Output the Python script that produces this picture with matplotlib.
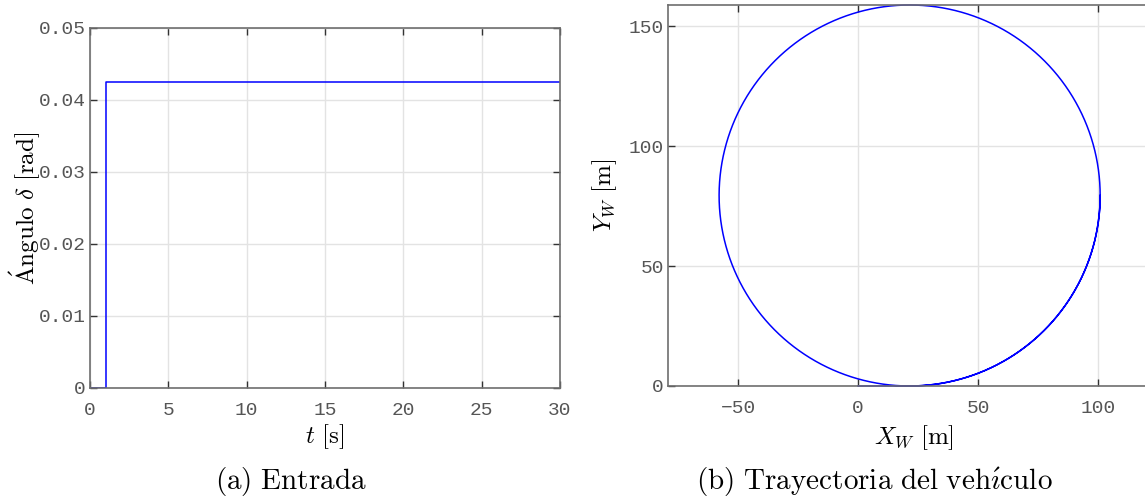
import numpy as np
import matplotlib
matplotlib.use("Agg")
import matplotlib.pyplot as plt

# steering input: step at t = 1 s
t_in = [0.0, 1.0, 1.0, 30.0]
delta_in = [0.0, 0.0, 0.0425, 0.0425]

# vehicle parameters for the kinematic path
speed = 21.5        # m/s
wheelbase = 3.376   # m
t_end = 30.0
dt = 0.002

plt.rcParams["mathtext.fontset"] = "cm"
tick_family = "Liberation Mono"
grid_col = "#e3e3e3"
spine_col = "#6e6e6e"
tick_col = "#555555"


def style_axes(ax):
    ax.grid(True, color=grid_col, linewidth=1.0)
    ax.set_axisbelow(True)
    for s in ax.spines.values():
        s.set_color(spine_col)
        s.set_linewidth(1.2)
    ax.tick_params(direction="in", length=5, width=1.0, color="#333333",
                   top=True, right=True, labelcolor=tick_col)
    ax.tick_params(axis="x", pad=10)
    ax.tick_params(axis="y", pad=3)
    for lab in ax.get_xticklabels() + ax.get_yticklabels():
        lab.set_fontfamily(tick_family)
        lab.set_fontsize(14)


fig = plt.figure(figsize=(11.45, 5.03), dpi=100)

# (a) steering angle
ax1 = fig.add_axes([90 / 1145, 1 - 388 / 503, 470 / 1145, 360 / 503])
ax1.plot(t_in, delta_in, color="#0000ff", linewidth=1.1)
ax1.set_xlim(0, 30)
ax1.set_ylim(0, 0.05)
ax1.set_xticks(np.arange(0, 31, 5))
ax1.set_yticks([0, 0.01, 0.02, 0.03, 0.04, 0.05])
ax1.set_yticklabels(["0", "0.01", "0.02", "0.03", "0.04", "0.05"])
style_axes(ax1)
ax1.set_xlabel(r"$t\ [\mathrm{s}]$", fontsize=18, va="center")
ax1.set_ylabel(r"$\acute{\mathrm{A}}\mathrm{ngulo}\ \delta\ [\mathrm{rad}]$",
               fontsize=18, va="center")
ax1.xaxis.set_label_coords(0.5, (388 - 437) / 360)
ax1.yaxis.set_label_coords((25 - 90) / 470, 0.5)

# (b) vehicle path from the same input
t = np.arange(0, t_end + dt, dt)
delta = np.interp(t, [0, 1.0 - 1e-9, 1.0, t_end], [0, 0, 0.0425, 0.0425])
yaw_rate = speed / wheelbase * np.tan(delta)
yaw = np.concatenate([[0], np.cumsum(0.5 * (yaw_rate[1:] + yaw_rate[:-1]) * dt)])
vx = speed * np.cos(yaw)
vy = speed * np.sin(yaw)
xw = np.concatenate([[0], np.cumsum(0.5 * (vx[1:] + vx[:-1]) * dt)])
yw = np.concatenate([[0], np.cumsum(0.5 * (vy[1:] + vy[:-1]) * dt)])

ax2 = fig.add_axes([668 / 1145, 1 - 386 / 503, 492 / 1145, 381 / 503])
ax2.plot(xw, yw, color="#0000ff", linewidth=1.1, clip_on=False)
ax2.set_xlim(-79.2, 125.8)
ax2.set_ylim(0, yw.max())
ax2.set_xticks([-50, 0, 50, 100])
ax2.set_yticks([0, 50, 100, 150])
style_axes(ax2)
ax2.set_xlabel(r"$X_W\ [\mathrm{m}]$", fontsize=18, va="center")
ax2.set_ylabel(r"$Y_W\ [\mathrm{m}]$", fontsize=18, va="center")
ax2.xaxis.set_label_coords(0.5, (386 - 438) / 381)
ax2.yaxis.set_label_coords((605 - 668) / 492, 0.5)

fig.text(291 / 1145, 1 - 482 / 503, r"$\mathrm{(a)\ Entrada}$", fontsize=21,
         ha="center", va="center")
fig.text(874 / 1145, 1 - 482 / 503,
         r"$\mathrm{(b)\ Trayectoria\ del\ veh\acute{\imath}culo}$", fontsize=21,
         ha="center", va="center")

fig.savefig("out.png", dpi=100)
